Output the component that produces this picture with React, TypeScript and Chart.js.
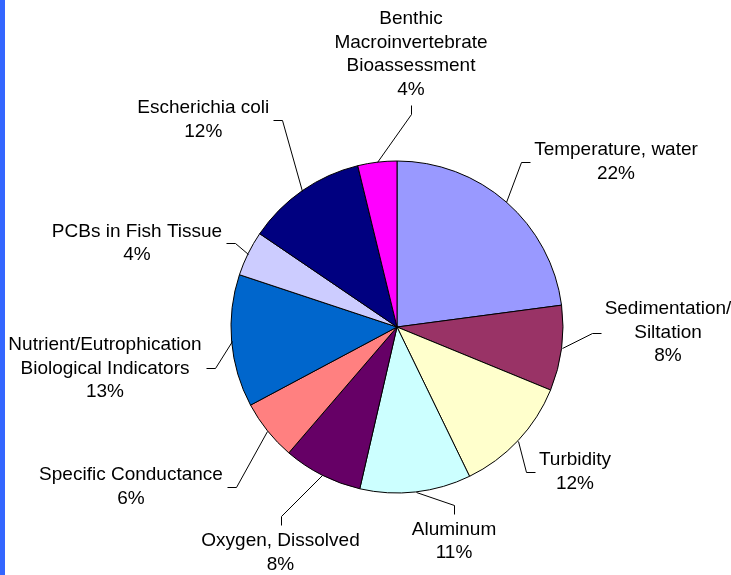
import React, { useEffect, useRef } from "react";
import { Chart, registerables } from "chart.js";

Chart.register(...registerables);

// ---- data ----
const categories: string[][] = [
  ["Temperature, water"],
  ["Sedimentation/", "Siltation"],
  ["Turbidity"],
  ["Aluminum"],
  ["Oxygen, Dissolved"],
  ["Specific Conductance"],
  ["Nutrient/Eutrophication", "Biological Indicators"],
  ["PCBs in Fish Tissue"],
  ["Escherichia coli"],
  ["Benthic", "Macroinvertebrate", "Bioassessment"],
];
// slice sizes
const values: number[] = [22.9, 8.3, 11.6, 10.8, 7.7, 5.9, 12.9, 4.4, 11.7, 3.8];
// percentage labels as printed in the picture
const percentLabels: string[] = ["22%", "8%", "12%", "11%", "8%", "6%", "13%", "4%", "12%", "4%"];
const colors: string[] = [
  "#9999FF",
  "#993366",
  "#FFFFCC",
  "#CCFFFF",
  "#660066",
  "#FF8080",
  "#0066CC",
  "#CCCCFF",
  "#000080",
  "#FF00FF",
];

// ---- label layout (offset of label block centre from pie centre, px; side the leader attaches to) ----
const labelOffsets: [number, number][] = [
  [219, -165],
  [271, 5.5],
  [178, 145],
  [57, 214.5],
  [-116.5, 225.7],
  [-266, 160],
  [-292, 41.3],
  [-260, -83.6],
  [-193.7, -207.3],
  [14, -272.6],
];
const labelSides: string[] = [
  "left",
  "left",
  "left",
  "top",
  "top",
  "right",
  "right",
  "right",
  "right",
  "bottom",
];

const FONT = '19px "Liberation Sans", Arial, sans-serif';
const LINE_H = 23.5;

const labelPlugin = {
  id: "excelLabels",
  beforeDraw(chart: any) {
    const { ctx, width, height } = chart;
    ctx.save();
    ctx.fillStyle = "#FFFFFF";
    ctx.fillRect(0, 0, width, height);
    ctx.fillStyle = "#3366FF";
    ctx.fillRect(0, 0, 5, height);
    ctx.restore();
  },
  afterDraw(chart: any) {
    const { ctx } = chart;
    const meta = chart.getDatasetMeta(0);
    ctx.save();
    ctx.font = FONT;
    ctx.fillStyle = "#000";
    ctx.strokeStyle = "#000";
    ctx.lineWidth = 1;
    ctx.textAlign = "center";
    ctx.textBaseline = "middle";
    meta.data.forEach((arc: any, i: number) => {
      const p = arc.getProps(["x", "y", "startAngle", "endAngle", "outerRadius"], true);
      const mid = (p.startAngle + p.endAngle) / 2;
      const ex = p.x + Math.cos(mid) * p.outerRadius;
      const ey = p.y + Math.sin(mid) * p.outerRadius;
      const lines = [...categories[i], percentLabels[i]];
      const w = Math.max(...lines.map((l) => ctx.measureText(l).width));
      const h = lines.length * LINE_H;
      const cx = p.x + labelOffsets[i][0];
      const cy = p.y + labelOffsets[i][1];
      const gap = 4;
      const seg = 9;
      let ax = cx, ay = cy, bx = cx, by = cy;
      const side = labelSides[i];
      if (side === "left") {
        ax = cx - w / 2 - gap; ay = cy; bx = ax - seg; by = ay;
      } else if (side === "right") {
        ax = cx + w / 2 + gap; ay = cy; bx = ax + seg; by = ay;
      } else if (side === "top") {
        ax = cx; ay = cy - h / 2 - gap; bx = ax; by = ay - seg;
      } else {
        ax = cx; ay = cy + h / 2 + gap; bx = ax; by = ay + seg;
      }
      ctx.beginPath();
      ctx.moveTo(Math.round(ex) + 0.5, Math.round(ey) + 0.5);
      ctx.lineTo(Math.round(bx) + 0.5, Math.round(by) + 0.5);
      ctx.lineTo(Math.round(ax) + 0.5, Math.round(ay) + 0.5);
      ctx.stroke();
      lines.forEach((l, k) => {
        ctx.fillText(l, cx, cy + (k - (lines.length - 1) / 2) * LINE_H);
      });
    });
    ctx.restore();
  },
};

export default function App() {
  const ref = useRef<HTMLCanvasElement | null>(null);
  useEffect(() => {
    if (!ref.current) return;
    const chart = new Chart(ref.current, {
      type: "pie",
      data: {
        labels: categories.map((c) => c.join(" ")),
        datasets: [
          {
            data: values,
            backgroundColor: colors,
            borderColor: "#000000",
            borderWidth: 1,
          },
        ],
      },
      options: {
        animation: false,
        responsive: false,
        radius: 166,
        layout: { padding: { left: 63, top: 79, right: 0, bottom: 0 } },
        plugins: {
          legend: { display: false },
          tooltip: { enabled: false },
        },
      } as any,
      plugins: [labelPlugin],
    });
    return () => chart.destroy();
  }, []);
  return (
    <div style={{ position: "fixed", left: 0, top: 0, width: 731, height: 575, background: "#fff" }}>
      <canvas ref={ref} width={731} height={575} style={{ display: "block" }} />
    </div>
  );
}
